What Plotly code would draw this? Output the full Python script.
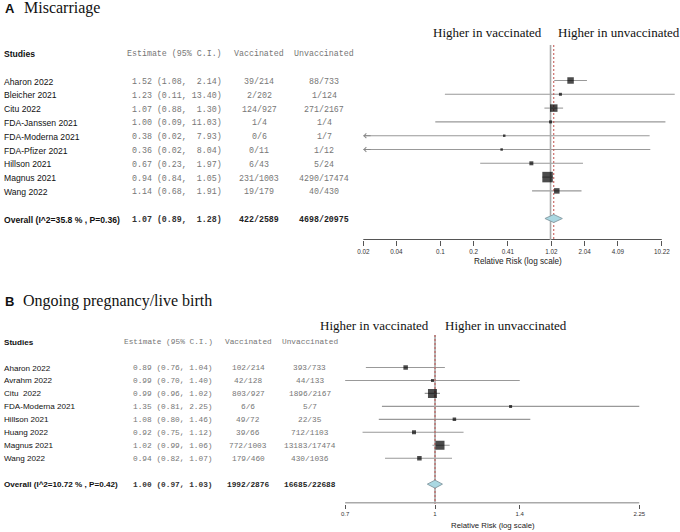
import math
import plotly.graph_objects as go

# ---------------- Panel A: Miscarriage ----------------
a_studies = ["Aharon 2022", "Bleicher 2021", "Citu 2022", "FDA-Janssen 2021",
             "FDA-Moderna 2021", "FDA-Pfizer 2021", "Hillson 2021", "Magnus 2021", "Wang 2022"]
a_est = [1.52, 1.23, 1.07, 1.00, 0.38, 0.36, 0.67, 0.94, 1.14]
a_lo = [1.08, 0.11, 0.88, 0.09, 0.02, 0.02, 0.23, 0.84, 0.68]
a_hi = [2.14, 13.40, 1.30, 11.03, 7.93, 8.04, 1.97, 1.05, 1.91]
a_vacc = ["39/214", "2/202", "124/927", "1/4", "0/6", "0/11", "6/43", "231/1003", "19/179"]
a_unvacc = ["88/733", "1/124", "271/2167", "1/4", "1/7", "1/12", "5/24", "4290/17474", "40/430"]
a_box = [6.5, 3, 7.5, 3, 2.5, 2.5, 4, 10.5, 5.5]
a_overall_label = "Overall (I^2=35.8 % , P=0.36)"
a_overall_est, a_overall_lo, a_overall_hi = 1.07, 0.89, 1.28
a_overall_vacc, a_overall_unvacc = "422/2589", "4698/20975"
a_tickvals = [0.02, 0.04, 0.1, 0.2, 0.41, 1.02, 2.04, 4.09, 10.22]
a_ticktext = ["0.02", "0.04", "0.1", "0.2", "0.41", "1.02", "2.04", "4.09", "10.22"]

# ---------------- Panel B: Ongoing pregnancy/live birth ----------------
b_studies = ["Aharon 2022", "Avrahm 2022", "Citu\u00a0\u00a02022", "FDA-Moderna 2021",
             "Hillson 2021", "Huang 2022", "Magnus 2021", "Wang 2022"]
b_est = [0.89, 0.99, 0.99, 1.35, 1.08, 0.92, 1.02, 0.94]
b_lo = [0.76, 0.70, 0.96, 0.81, 0.80, 0.75, 0.99, 0.82]
b_hi = [1.04, 1.40, 1.02, 2.25, 1.46, 1.12, 1.06, 1.07]
b_vacc = ["102/214", "42/128", "803/927", "6/6", "49/72", "39/66", "772/1003", "179/460"]
b_unvacc = ["393/733", "44/133", "1896/2167", "5/7", "22/35", "712/1103", "13183/17474", "430/1036"]
b_box = [4.5, 3, 9, 3, 3.5, 4, 9, 4.5]
b_overall_label = "Overall (I^2=10.72 % , P=0.42)"
b_overall_est, b_overall_lo, b_overall_hi = 1.00, 0.97, 1.03
b_overall_vacc, b_overall_unvacc = "1992/2876", "16685/22688"
b_tickvals = [0.7, 1, 1.4, 2.25]
b_ticktext = ["0.7", "1", "1.4", "2.25"]

W, H = 680, 532
SANS = "Liberation Sans, Arial, sans-serif"
MONO = "Liberation Mono, Courier New, monospace"
SERIF = "Liberation Serif, Times New Roman, serif"
CI_COL = "#999999"
TXT_GRAY = "#767676"

fig = go.Figure()
annotations = []


def px(xp):
    return xp / W


def py(yp):
    return 1 - yp / H


def est_strings(est, lo, hi, oe, ol, oh):
    w = max(len(f"{v:.2f}") for v in list(hi) + [oh])
    out = []
    for e, l, h in list(zip(est, lo, hi)) + [(oe, ol, oh)]:
        out.append(f"{e:.2f} ({l:.2f}, " + f"{h:.2f}".rjust(w, "\u00a0") + ")")
    return out


def panel(xa, ya, studies, est, lo, hi, vacc, unvacc, box, olab, oe, ol, oh, ov, ou, ticks,
          cols, fs_sans, fs_mono, diam_h, line_top, axis_row, clip_lo, dy):
    n = len(studies)
    rows = list(range(1, n + 1))
    orow = n + 2
    # axis line spanning first to last tick
    fig.add_trace(go.Scatter(x=[ticks[0], ticks[-1]], y=[axis_row, axis_row], mode="lines",
                             line=dict(color="#555555", width=1), xaxis=xa, yaxis=ya, hoverinfo="skip"))
    # CI lines
    xs, ys = [], []
    for r, l, h in zip(rows, lo, hi):
        xs += [l, h, None]
        ys += [r, r, None]
    fig.add_trace(go.Scatter(x=xs, y=ys, mode="lines", line=dict(color=CI_COL, width=1.1),
                             xaxis=xa, yaxis=ya, hoverinfo="skip"))
    # null line and overall line
    fig.add_trace(go.Scatter(x=[1, 1], y=[line_top, 100], mode="lines",
                             line=dict(color="#a8a8a8", width=1.6), xaxis=xa, yaxis=ya, hoverinfo="skip"))
    fig.add_trace(go.Scatter(x=[oe, oe], y=[line_top, 100], mode="lines",
                             line=dict(color="#c0504d", width=1, dash="2px,2px"), xaxis=xa, yaxis=ya,
                             hoverinfo="skip"))
    # boxes
    fig.add_trace(go.Scatter(x=est, y=rows, mode="markers",
                             marker=dict(symbol="square", size=box, color="black", line=dict(width=0)),
                             xaxis=xa, yaxis=ya, hoverinfo="skip"))
    # diamond
    fig.add_trace(go.Scatter(x=[ol, oe, oh, oe, ol], y=[orow, orow - diam_h, orow, orow + diam_h, orow],
                             mode="lines", fill="toself", fillcolor="#aad8e2",
                             line=dict(color="#8aa0a8", width=1), xaxis=xa, yaxis=ya, hoverinfo="skip"))
    # arrows for clipped lower limits
    axref = "x" if xa == "x" else "x2"
    ayref = "y" if ya == "y" else "y2"
    for r, l in zip(rows, lo):
        if l <= clip_lo:
            annotations.append(dict(x=math.log10(clip_lo), y=r, ax=math.log10(clip_lo) + 0.08, ay=r,
                                    xref=axref, yref=ayref, axref=axref, ayref=ayref, text="",
                                    showarrow=True, arrowhead=4, arrowsize=0.9, arrowwidth=1,
                                    arrowcolor="#888"))
    # text columns
    c_name, c_est, c_vac, c_unv = cols

    def txt(x, y, t, anchor, fam, size, color):
        annotations.append(dict(x=px(x), y=y, xref="paper", yref=ayref, text=t, xanchor=anchor,
                                yshift=dy, showarrow=False, font=dict(family=fam, size=size, color=color)))

    ests = est_strings(est, lo, hi, oe, ol, oh)
    hdr = -1
    txt(c_name, hdr, "<b>Studies</b>", "left", SANS, fs_sans, "#111")
    txt(c_est, hdr, "Estimate (95% C.I.)", "right", MONO, fs_mono, TXT_GRAY)
    txt(c_vac, hdr, "Vaccinated", "center", MONO, fs_mono, TXT_GRAY)
    txt(c_unv, hdr, "Unvaccinated", "center", MONO, fs_mono, TXT_GRAY)
    for i, r in enumerate(rows):
        txt(c_name, r, studies[i], "left", SANS, fs_sans, "#111111")
        txt(c_est, r, ests[i], "right", MONO, fs_mono, TXT_GRAY)
        txt(c_vac, r, vacc[i], "center", MONO, fs_mono, TXT_GRAY)
        txt(c_unv, r, unvacc[i], "center", MONO, fs_mono, TXT_GRAY)
    txt(c_name, orow, f"<b>{olab}</b>", "left", SANS, fs_sans, "#111")
    txt(c_est, orow, f"<b>{ests[-1]}</b>", "right", MONO, fs_mono, "#333")
    txt(c_vac, orow, f"<b>{ov}</b>", "center", MONO, fs_mono, "#222")
    txt(c_unv, orow, f"<b>{ou}</b>", "center", MONO, fs_mono, "#222")


# geometry (pixels)
A_X0, A_PPD = 363.3, 110.2        # pixel of 0.02, pixels per decade
A_TOP, A_AXIS, A_ROW1, A_STEP = 40, 240, 80.5, 13.8
B_X1, B_PPD = 435.0, 580.0        # pixel of 1, pixels per decade
B_TOP, B_AXIS, B_ROW1, B_STEP = 330, 503.5, 367.5, 12.96

a_xrange = [math.log10(0.02) - A_X0 / A_PPD, math.log10(0.02) + (W - A_X0) / A_PPD]
a_yrange = [1 + (A_AXIS - A_ROW1) / A_STEP, 1 - (A_ROW1 - A_TOP) / A_STEP]
b_xrange = [-B_X1 / B_PPD, (W - B_X1) / B_PPD]
b_yrange = [1 + (B_AXIS - B_ROW1) / B_STEP, 1 - (B_ROW1 - B_TOP) / B_STEP]

panel("x", "y", a_studies, a_est, a_lo, a_hi, a_vacc, a_unvacc, a_box,
      a_overall_label, a_overall_est, a_overall_lo, a_overall_hi, a_overall_vacc, a_overall_unvacc,
      a_tickvals, cols=(1.5, 224, 259, 324), fs_sans=8.6, fs_mono=8.3, diam_h=4 / A_STEP,
      line_top=1 - (A_ROW1 - 45) / A_STEP, axis_row=a_yrange[0] - 0.5 / A_STEP, clip_lo=0.02, dy=-1)
panel("x2", "y2", b_studies, b_est, b_lo, b_hi, b_vacc, b_unvacc, b_box,
      b_overall_label, b_overall_est, b_overall_lo, b_overall_hi, b_overall_vacc, b_overall_unvacc,
      b_tickvals, cols=(1.5, 215, 248.5, 309.5), fs_sans=8.1, fs_mono=7.8, diam_h=4 / B_STEP,
      line_top=1 - (B_ROW1 - 335) / B_STEP, axis_row=b_yrange[0] - 0.5 / B_STEP, clip_lo=0.0, dy=-0.5)

# titles and labels
annotations += [
    dict(x=px(2.5), y=py(8.5), xref="paper", yref="paper", xanchor="left", yanchor="middle", showarrow=False,
         text="<b>A</b>", font=dict(family=SANS, size=13, color="#111")),
    dict(x=px(22), y=py(8.5), xref="paper", yref="paper", xanchor="left", yanchor="middle", showarrow=False,
         text="Miscarriage", font=dict(family=SERIF, size=16, color="#111")),
    dict(x=px(2.5), y=py(301), xref="paper", yref="paper", xanchor="left", yanchor="middle", showarrow=False,
         text="<b>B</b>", font=dict(family=SANS, size=13, color="#111")),
    dict(x=px(21), y=py(300.5), xref="paper", yref="paper", xanchor="left", yanchor="middle", showarrow=False,
         text="Ongoing pregnancy/live birth", font=dict(family=SERIF, size=16, color="#111")),
    dict(x=px(544), y=py(32), xref="paper", yref="paper", xanchor="right", yanchor="middle", showarrow=False,
         text="Higher in vaccinated", font=dict(family=SERIF, size=13, color="#111")),
    dict(x=px(556), y=py(32), xref="paper", yref="paper", xanchor="left", yanchor="middle", showarrow=False,
         text="Higher in unvaccinated", font=dict(family=SERIF, size=13, color="#111")),
    dict(x=px(431), y=py(325), xref="paper", yref="paper", xanchor="right", yanchor="middle", showarrow=False,
         text="Higher in vaccinated", font=dict(family=SERIF, size=13, color="#111")),
    dict(x=px(443), y=py(325), xref="paper", yref="paper", xanchor="left", yanchor="middle", showarrow=False,
         text="Higher in unvaccinated", font=dict(family=SERIF, size=13, color="#111")),
    dict(x=px(518), y=py(261.5), xref="paper", yref="paper", xanchor="center", yanchor="middle", showarrow=False,
         text="Relative Risk (log scale)", font=dict(family=SANS, size=8.2, color="#222")),
    dict(x=px(493), y=py(525.5), xref="paper", yref="paper", xanchor="center", yanchor="middle", showarrow=False,
         text="Relative Risk (log scale)", font=dict(family=SANS, size=7.8, color="#222")),
]

axis_common = dict(type="log", showgrid=False, zeroline=False, showline=False, ticks="outside",
                   tickwidth=1, tickcolor="#555", fixedrange=True)

fig.update_layout(
    width=W, height=H, margin=dict(l=0, r=0, t=0, b=0),
    paper_bgcolor="white", plot_bgcolor="white", showlegend=False,
    xaxis=dict(domain=[0, 1], range=a_xrange, anchor="y", tickvals=a_tickvals, ticktext=a_ticktext,
               ticklen=5, tickfont=dict(family=SANS, size=6.3, color="#333"), **axis_common),
    yaxis=dict(domain=[py(A_AXIS), py(A_TOP)], range=a_yrange, visible=False, fixedrange=True),
    xaxis2=dict(domain=[0, 1], range=b_xrange, anchor="y2", tickvals=b_tickvals, ticktext=b_ticktext,
                ticklen=4, tickfont=dict(family=SANS, size=6.0, color="#333"), **axis_common),
    yaxis2=dict(domain=[py(B_AXIS), py(B_TOP)], range=b_yrange, visible=False, fixedrange=True),
    annotations=annotations,
)

fig.write_html("out.html", config={"staticPlot": True},
               post_script="document.body.style.margin='0';document.body.style.overflow='hidden';")
